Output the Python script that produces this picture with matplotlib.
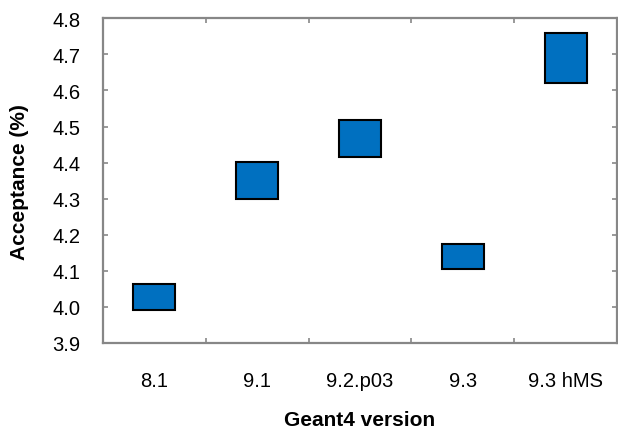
import matplotlib
matplotlib.use("Agg")
import matplotlib.pyplot as plt
import numpy as np

categories = ["8.1", "9.1", "9.2.p03", "9.3", "9.3 hMS"]
low_values = [3.992, 4.300, 4.416, 4.106, 4.621]
high_values = [4.064, 4.403, 4.517, 4.175, 4.758]
y_ticks = [3.9, 4.0, 4.1, 4.2, 4.3, 4.4, 4.5, 4.6, 4.7, 4.8]

plt.rcParams['font.family'] = ['Liberation Sans', 'DejaVu Sans']

fig = plt.figure(figsize=(6.18, 4.31), dpi=100)
ax = fig.add_axes([103/618, 1 - 344/431, (617 - 103)/618, (344 - 19.3)/431])

x = np.arange(len(categories))
heights = np.array(high_values) - np.array(low_values)
ax.bar(x, heights, bottom=low_values, width=0.41, color="#0070C0",
       edgecolor="black", linewidth=1.5, zorder=3)

ax.set_xlim(-0.5, len(categories) - 0.5)
ax.set_ylim(3.9, 4.8)
ax.set_yticks(y_ticks)
ax.set_yticklabels([f"{v:.1f}" for v in y_ticks])

grey = "#878787"
for s in ax.spines.values():
    s.set_color(grey)
    s.set_linewidth(1.6)

ax.set_xticks(np.arange(len(categories) + 1) - 0.5)
ax.set_xticklabels([])
ax.set_xticks(x, minor=True)
ax.set_xticklabels(categories, minor=True)
ax.tick_params(axis='x', which='major', direction='in', length=3.5, width=1.2,
               color=grey, top=True, bottom=True)
ax.tick_params(axis='x', which='minor', length=0, pad=20, labelsize=14.5)
ax.tick_params(axis='y', which='major', direction='in', length=3.5, width=1.2,
               color=grey, left=True, right=True, pad=16, labelsize=14.5)

ax.set_xlabel("Geant4 version", fontsize=15, fontweight='bold', va='top')
ax.xaxis.set_label_coords(0.5, -(411 - 344) / (344 - 19.3))
ax.set_ylabel("Acceptance (%)", fontsize=15, fontweight='bold', va='center')
ax.yaxis.set_label_coords(-(103 - 20) / (617 - 103), 0.5)

fig.savefig("out.png", dpi=100)
